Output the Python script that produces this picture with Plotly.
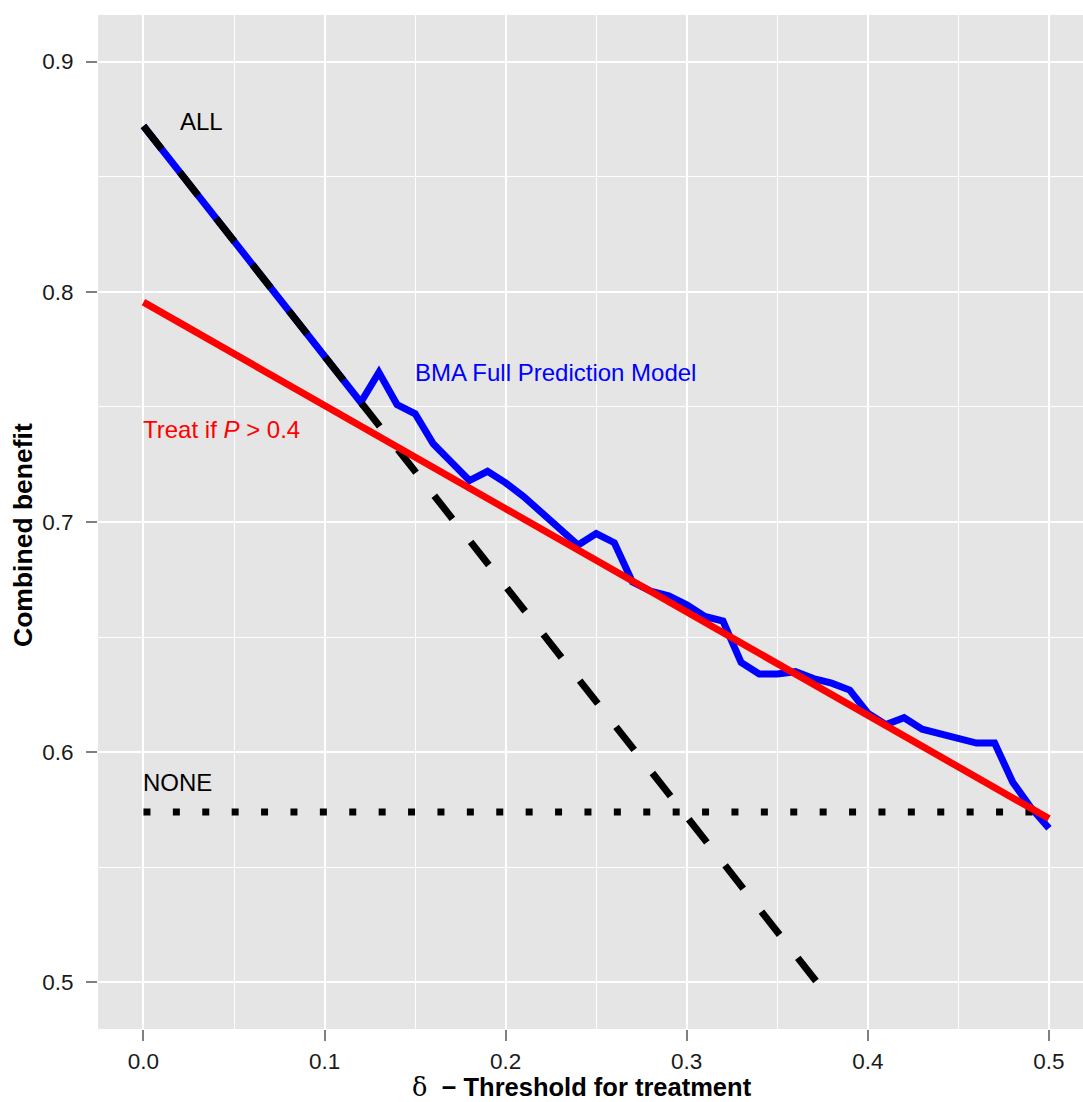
import plotly.graph_objects as go

# Threshold grid (delta) and combined benefit of the prediction model
delta = [0.00, 0.01, 0.02, 0.03, 0.04, 0.05, 0.06, 0.07, 0.08, 0.09,
         0.10, 0.11, 0.12, 0.13, 0.14, 0.15, 0.16, 0.17, 0.18, 0.19,
         0.20, 0.21, 0.22, 0.23, 0.24, 0.25, 0.26, 0.27, 0.28, 0.29,
         0.30, 0.31, 0.32, 0.33, 0.34, 0.35, 0.36, 0.37, 0.38, 0.39,
         0.40, 0.41, 0.42, 0.43, 0.44, 0.45, 0.46, 0.47, 0.48, 0.49, 0.50]
bma_benefit = [0.872, 0.862, 0.852, 0.842, 0.832, 0.822, 0.812, 0.802, 0.792, 0.782,
               0.772, 0.762, 0.752, 0.765, 0.751, 0.747, 0.734, 0.726, 0.718, 0.722,
               0.717, 0.711, 0.704, 0.697, 0.690, 0.695, 0.691, 0.674, 0.670, 0.668,
               0.664, 0.659, 0.657, 0.639, 0.634, 0.634, 0.635, 0.632, 0.630, 0.627,
               0.617, 0.612, 0.615, 0.610, 0.608, 0.606, 0.604, 0.604, 0.587, 0.576, 0.567]

# Treat everyone
all_delta = [0.0, 0.372]
all_benefit = [0.872, 0.500]

# Treat no one
none_delta = [0.0, 0.5]
none_benefit = [0.574, 0.574]

# Simple rule: treat if P > 0.4
rule_delta = [0.0, 0.5]
rule_benefit = [0.7955, 0.5712]

x_ticks = [0.0, 0.1, 0.2, 0.3, 0.4, 0.5]
x_tick_text = ["0.0", "0.1", "0.2", "0.3", "0.4", "0.5"]
y_ticks = [0.5, 0.6, 0.7, 0.8, 0.9]
y_tick_text = ["0.5", "0.6", "0.7", "0.8", "0.9"]

FONT = "Liberation Sans, Arial, sans-serif"

fig = go.Figure()
fig.add_trace(go.Scatter(x=delta, y=bma_benefit, mode="lines",
                         line=dict(color="#0000FF", width=7), hoverinfo="skip"))
fig.add_trace(go.Scatter(x=all_delta, y=all_benefit, mode="lines",
                         line=dict(color="black", width=7, dash="29.4px,29.4px"), hoverinfo="skip"))
fig.add_trace(go.Scatter(x=none_delta, y=none_benefit, mode="lines",
                         line=dict(color="black", width=7, dash="7px,22.4px"), hoverinfo="skip"))
fig.add_trace(go.Scatter(x=rule_delta, y=rule_benefit, mode="lines",
                         line=dict(color="#FF0000", width=7), hoverinfo="skip"))

labels = [
    (0.02, 0.874, "ALL", "black"),
    (0.15, 0.765, "BMA Full Prediction Model", "#0000FF"),
    (0.0, 0.740, "Treat if <i>P</i> &gt; 0.4", "#FF0000"),
    (0.0, 0.587, "NONE", "black"),
]
for lx, ly, txt, col in labels:
    fig.add_annotation(x=lx, y=ly, text=txt, showarrow=False, xanchor="left",
                       yanchor="middle", xshift=-2,
                       font=dict(family=FONT, size=24, color=col))

# Axis titles
fig.add_annotation(xref="paper", yref="paper", x=0.4914, y=0, yshift=-58,
                   xanchor="center", yanchor="middle", showarrow=False,
                   text="<span style='font-family:DejaVu Serif;font-weight:normal'>δ</span>  <b>− Threshold for treatment</b>",
                   font=dict(family=FONT, size=25.5, color="black"))
fig.add_annotation(xref="paper", yref="paper", x=0, xshift=-75, y=0.4872,
                   xanchor="center", yanchor="middle", showarrow=False, textangle=-90,
                   text="<b>Combined benefit</b>",
                   font=dict(family=FONT, size=26.5, color="black"))

fig.update_layout(
    width=1083, height=1102,
    margin=dict(l=98, r=0, t=15, b=73),
    paper_bgcolor="white", plot_bgcolor="#E5E5E5",
    showlegend=False,
    font=dict(family=FONT),
)
fig.update_xaxes(
    range=[-0.0251, 0.5188], tickvals=x_ticks, ticktext=x_tick_text,
    showgrid=True, gridcolor="white", gridwidth=2.4, zeroline=False,
    minor=dict(dtick=0.05, tick0=0, showgrid=True, gridcolor="white", gridwidth=1.2),
    ticks="outside", ticklen=11, tickwidth=2, tickcolor="#7F7F7F",
    ticklabelstandoff=1,
    tickfont=dict(family=FONT, size=22.5, color="#1A1A1A"),
    showline=False,
)
fig.update_yaxes(
    range=[0.4798, 0.9202], tickvals=y_ticks, ticktext=y_tick_text,
    showgrid=True, gridcolor="white", gridwidth=2.4, zeroline=False,
    minor=dict(dtick=0.05, tick0=0, showgrid=True, gridcolor="white", gridwidth=1.2),
    ticks="outside", ticklen=11, tickwidth=2, tickcolor="#7F7F7F",
    ticklabelstandoff=8,
    tickfont=dict(family=FONT, size=22.5, color="#1A1A1A"),
    showline=False,
)

fig.write_html("out.html")
